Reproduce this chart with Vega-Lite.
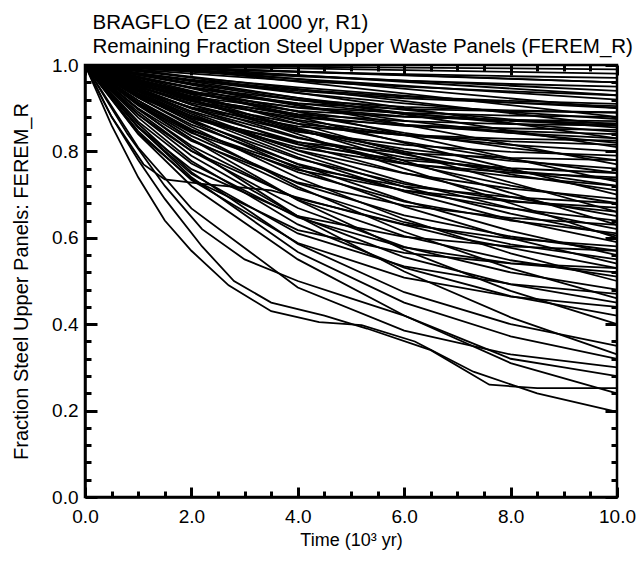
{
"$schema": "https://vega.github.io/schema/vega-lite/v6.json",
"width": 532, "height": 432,
"autosize": {"type": "none"},
"padding": {"left": 85, "top": 65, "right": 23, "bottom": 66},
"background": "white",
"config": {"view": {"stroke": "black", "strokeWidth": 2.5}, "font": "Liberation Sans"},
"data": {"values": [
{"r":1,"t":0,"f":1},{"r":1,"t":1,"f":0.999},{"r":1,"t":2,"f":0.998},{"r":1,"t":4,"f":0.996},{"r":1,"t":6,"f":0.994},{"r":1,"t":8,"f":0.992},{"r":1,"t":10,"f":0.99},
{"r":2,"t":0,"f":1},{"r":2,"t":1,"f":0.998},{"r":2,"t":2,"f":0.996},{"r":2,"t":4,"f":0.992},{"r":2,"t":6,"f":0.988},{"r":2,"t":8,"f":0.984},{"r":2,"t":10,"f":0.98},
{"r":3,"t":0,"f":1},{"r":3,"t":1,"f":0.995},{"r":3,"t":2,"f":0.991},{"r":3,"t":4,"f":0.984},{"r":3,"t":6,"f":0.979},{"r":3,"t":8,"f":0.974},{"r":3,"t":10,"f":0.97},
{"r":4,"t":0,"f":1},{"r":4,"t":1,"f":0.996},{"r":4,"t":2,"f":0.992},{"r":4,"t":4,"f":0.984},{"r":4,"t":6,"f":0.976},{"r":4,"t":8,"f":0.968},{"r":4,"t":10,"f":0.96},
{"r":5,"t":0,"f":1},{"r":5,"t":1,"f":0.992},{"r":5,"t":2,"f":0.986},{"r":5,"t":4,"f":0.974},{"r":5,"t":6,"f":0.964},{"r":5,"t":8,"f":0.956},{"r":5,"t":10,"f":0.95},
{"r":6,"t":0,"f":1},{"r":6,"t":1,"f":0.994},{"r":6,"t":2,"f":0.988},{"r":6,"t":4,"f":0.976},{"r":6,"t":6,"f":0.964},{"r":6,"t":8,"f":0.952},{"r":6,"t":10,"f":0.94},
{"r":7,"t":0,"f":1},{"r":7,"t":1,"f":0.989},{"r":7,"t":2,"f":0.98},{"r":7,"t":4,"f":0.963},{"r":7,"t":6,"f":0.95},{"r":7,"t":8,"f":0.939},{"r":7,"t":10,"f":0.93},
{"r":8,"t":0,"f":1},{"r":8,"t":1,"f":0.992},{"r":8,"t":2,"f":0.984},{"r":8,"t":4,"f":0.968},{"r":8,"t":6,"f":0.952},{"r":8,"t":8,"f":0.936},{"r":8,"t":10,"f":0.92},
{"r":9,"t":0,"f":1},{"r":9,"t":1,"f":0.981},{"r":9,"t":2,"f":0.966},{"r":9,"t":4,"f":0.943},{"r":9,"t":6,"f":0.927},{"r":9,"t":8,"f":0.917},{"r":9,"t":10,"f":0.91},
{"r":10,"t":0,"f":1},{"r":10,"t":1,"f":0.985},{"r":10,"t":2,"f":0.971},{"r":10,"t":4,"f":0.948},{"r":10,"t":6,"f":0.929},{"r":10,"t":8,"f":0.913},{"r":10,"t":10,"f":0.9},
{"r":11,"t":0,"f":1},{"r":11,"t":1,"f":0.97},{"r":11,"t":2,"f":0.948},{"r":11,"t":4,"f":0.919},{"r":11,"t":6,"f":0.903},{"r":11,"t":8,"f":0.895},{"r":11,"t":10,"f":0.89},
{"r":12,"t":0,"f":1},{"r":12,"t":1,"f":0.96},{"r":12,"t":2,"f":0.933},{"r":12,"t":4,"f":0.902},{"r":12,"t":6,"f":0.889},{"r":12,"t":8,"f":0.883},{"r":12,"t":10,"f":0.88},
{"r":13,"t":0,"f":1},{"r":13,"t":1,"f":0.981},{"r":13,"t":2,"f":0.964},{"r":13,"t":4,"f":0.935},{"r":13,"t":6,"f":0.911},{"r":13,"t":8,"f":0.891},{"r":13,"t":10,"f":0.875},
{"r":14,"t":0,"f":1},{"r":14,"t":1,"f":0.956},{"r":14,"t":2,"f":0.927},{"r":14,"t":4,"f":0.894},{"r":14,"t":6,"f":0.88},{"r":14,"t":8,"f":0.873},{"r":14,"t":10,"f":0.87},
{"r":15,"t":0,"f":1},{"r":15,"t":1,"f":0.963},{"r":15,"t":2,"f":0.936},{"r":15,"t":4,"f":0.901},{"r":15,"t":6,"f":0.881},{"r":15,"t":8,"f":0.871},{"r":15,"t":10,"f":0.865},
{"r":16,"t":0,"f":1},{"r":16,"t":1,"f":0.971},{"r":16,"t":2,"f":0.947},{"r":16,"t":4,"f":0.911},{"r":16,"t":6,"f":0.887},{"r":16,"t":8,"f":0.871},{"r":16,"t":10,"f":0.86},
{"r":17,"t":0,"f":1},{"r":17,"t":1,"f":0.95},{"r":17,"t":2,"f":0.916},{"r":17,"t":4,"f":0.878},{"r":17,"t":6,"f":0.861},{"r":17,"t":8,"f":0.853},{"r":17,"t":10,"f":0.85},
{"r":18,"t":0,"f":1},{"r":18,"t":1,"f":0.977},{"r":18,"t":2,"f":0.956},{"r":18,"t":4,"f":0.919},{"r":18,"t":6,"f":0.889},{"r":18,"t":8,"f":0.865},{"r":18,"t":10,"f":0.845},
{"r":19,"t":0,"f":1},{"r":19,"t":1,"f":0.956},{"r":19,"t":2,"f":0.924},{"r":19,"t":4,"f":0.882},{"r":19,"t":6,"f":0.859},{"r":19,"t":8,"f":0.847},{"r":19,"t":10,"f":0.84},
{"r":20,"t":0,"f":1},{"r":20,"t":1,"f":0.964},{"r":20,"t":2,"f":0.935},{"r":20,"t":4,"f":0.892},{"r":20,"t":6,"f":0.862},{"r":20,"t":8,"f":0.843},{"r":20,"t":10,"f":0.83},
{"r":21,"t":0,"f":1},{"r":21,"t":1,"f":0.941},{"r":21,"t":2,"f":0.902},{"r":21,"t":4,"f":0.858},{"r":21,"t":6,"f":0.838},{"r":21,"t":8,"f":0.829},{"r":21,"t":10,"f":0.825},
{"r":22,"t":0,"f":1},{"r":22,"t":1,"f":0.973},{"r":22,"t":2,"f":0.948},{"r":22,"t":4,"f":0.906},{"r":22,"t":6,"f":0.871},{"r":22,"t":8,"f":0.843},{"r":22,"t":10,"f":0.82},
{"r":23,"t":0,"f":1},{"r":23,"t":1,"f":0.981},{"r":23,"t":2,"f":0.962},{"r":23,"t":4,"f":0.924},{"r":23,"t":6,"f":0.886},{"r":23,"t":8,"f":0.848},{"r":23,"t":10,"f":0.81},
{"r":24,"t":0,"f":1},{"r":24,"t":1,"f":0.958},{"r":24,"t":2,"f":0.924},{"r":24,"t":4,"f":0.873},{"r":24,"t":6,"f":0.838},{"r":24,"t":8,"f":0.815},{"r":24,"t":10,"f":0.8},
{"r":25,"t":0,"f":1},{"r":25,"t":1,"f":0.943},{"r":25,"t":2,"f":0.9},{"r":25,"t":4,"f":0.845},{"r":25,"t":6,"f":0.815},{"r":25,"t":8,"f":0.799},{"r":25,"t":10,"f":0.79},
{"r":26,"t":0,"f":1},{"r":26,"t":1,"f":0.967},{"r":26,"t":2,"f":0.937},{"r":26,"t":4,"f":0.885},{"r":26,"t":6,"f":0.843},{"r":26,"t":8,"f":0.808},{"r":26,"t":10,"f":0.78},
{"r":27,"t":0,"f":1},{"r":27,"t":1,"f":0.977},{"r":27,"t":2,"f":0.954},{"r":27,"t":4,"f":0.908},{"r":27,"t":6,"f":0.862},{"r":27,"t":8,"f":0.816},{"r":27,"t":10,"f":0.77},
{"r":28,"t":0,"f":1},{"r":28,"t":1,"f":0.95},{"r":28,"t":2,"f":0.908},{"r":28,"t":4,"f":0.847},{"r":28,"t":6,"f":0.806},{"r":28,"t":8,"f":0.778},{"r":28,"t":10,"f":0.76},
{"r":29,"t":0,"f":1},{"r":29,"t":1,"f":0.962},{"r":29,"t":2,"f":0.928},{"r":29,"t":4,"f":0.87},{"r":29,"t":6,"f":0.822},{"r":29,"t":8,"f":0.782},{"r":29,"t":10,"f":0.75},
{"r":30,"t":0,"f":1},{"r":30,"t":1,"f":0.929},{"r":30,"t":2,"f":0.877},{"r":30,"t":4,"f":0.809},{"r":30,"t":6,"f":0.771},{"r":30,"t":8,"f":0.751},{"r":30,"t":10,"f":0.74},
{"r":31,"t":0,"f":1},{"r":31,"t":1,"f":0.973},{"r":31,"t":2,"f":0.946},{"r":31,"t":4,"f":0.892},{"r":31,"t":6,"f":0.838},{"r":31,"t":8,"f":0.784},{"r":31,"t":10,"f":0.73},
{"r":32,"t":0,"f":1},{"r":32,"t":1,"f":0.941},{"r":32,"t":2,"f":0.893},{"r":32,"t":4,"f":0.822},{"r":32,"t":6,"f":0.773},{"r":32,"t":8,"f":0.742},{"r":32,"t":10,"f":0.72},
{"r":33,"t":0,"f":1},{"r":33,"t":1,"f":0.956},{"r":33,"t":2,"f":0.917},{"r":33,"t":4,"f":0.849},{"r":33,"t":6,"f":0.793},{"r":33,"t":8,"f":0.747},{"r":33,"t":10,"f":0.71},
{"r":34,"t":0,"f":1},{"r":34,"t":1,"f":0.97},{"r":34,"t":2,"f":0.94},{"r":34,"t":4,"f":0.88},{"r":34,"t":6,"f":0.82},{"r":34,"t":8,"f":0.76},{"r":34,"t":10,"f":0.7},
{"r":35,"t":0,"f":1},{"r":35,"t":1,"f":0.935},{"r":35,"t":2,"f":0.882},{"r":35,"t":4,"f":0.803},{"r":35,"t":6,"f":0.749},{"r":35,"t":8,"f":0.714},{"r":35,"t":10,"f":0.69},
{"r":36,"t":0,"f":1},{"r":36,"t":1,"f":0.952},{"r":36,"t":2,"f":0.908},{"r":36,"t":4,"f":0.833},{"r":36,"t":6,"f":0.772},{"r":36,"t":8,"f":0.721},{"r":36,"t":10,"f":0.68},
{"r":37,"t":0,"f":1},{"r":37,"t":1,"f":0.91},{"r":37,"t":2,"f":0.843},{"r":37,"t":4,"f":0.757},{"r":37,"t":6,"f":0.71},{"r":37,"t":8,"f":0.684},{"r":37,"t":10,"f":0.67},
{"r":38,"t":0,"f":1},{"r":38,"t":1,"f":0.966},{"r":38,"t":2,"f":0.932},{"r":38,"t":4,"f":0.864},{"r":38,"t":6,"f":0.796},{"r":38,"t":8,"f":0.728},{"r":38,"t":10,"f":0.66},
{"r":39,"t":0,"f":1},{"r":39,"t":1,"f":0.947},{"r":39,"t":2,"f":0.9},{"r":39,"t":4,"f":0.817},{"r":39,"t":6,"f":0.75},{"r":39,"t":8,"f":0.695},{"r":39,"t":10,"f":0.65},
{"r":40,"t":0,"f":1},{"r":40,"t":1,"f":0.924},{"r":40,"t":2,"f":0.862},{"r":40,"t":4,"f":0.771},{"r":40,"t":6,"f":0.709},{"r":40,"t":8,"f":0.668},{"r":40,"t":10,"f":0.64},
{"r":41,"t":0,"f":1},{"r":41,"t":1,"f":0.963},{"r":41,"t":2,"f":0.926},{"r":41,"t":4,"f":0.852},{"r":41,"t":6,"f":0.778},{"r":41,"t":8,"f":0.704},{"r":41,"t":10,"f":0.63},
{"r":42,"t":0,"f":1},{"r":42,"t":1,"f":0.943},{"r":42,"t":2,"f":0.891},{"r":42,"t":4,"f":0.802},{"r":42,"t":6,"f":0.729},{"r":42,"t":8,"f":0.669},{"r":42,"t":10,"f":0.62},
{"r":43,"t":0,"f":1},{"r":43,"t":1,"f":0.918},{"r":43,"t":2,"f":0.851},{"r":43,"t":4,"f":0.752},{"r":43,"t":6,"f":0.684},{"r":43,"t":8,"f":0.64},{"r":43,"t":10,"f":0.61},
{"r":44,"t":0,"f":1},{"r":44,"t":1,"f":0.96},{"r":44,"t":2,"f":0.92},{"r":44,"t":4,"f":0.84},{"r":44,"t":6,"f":0.76},{"r":44,"t":8,"f":0.68},{"r":44,"t":10,"f":0.6},
{"r":45,"t":0,"f":1},{"r":45,"t":1,"f":0.938},{"r":45,"t":2,"f":0.882},{"r":45,"t":4,"f":0.786},{"r":45,"t":6,"f":0.707},{"r":45,"t":8,"f":0.642},{"r":45,"t":10,"f":0.59},
{"r":46,"t":0,"f":1},{"r":46,"t":1,"f":0.885},{"r":46,"t":2,"f":0.801},{"r":46,"t":4,"f":0.691},{"r":46,"t":6,"f":0.631},{"r":46,"t":8,"f":0.598},{"r":46,"t":10,"f":0.58},
{"r":47,"t":0,"f":1},{"r":47,"t":1,"f":0.91},{"r":47,"t":2,"f":0.836},{"r":47,"t":4,"f":0.726},{"r":47,"t":6,"f":0.652},{"r":47,"t":8,"f":0.603},{"r":47,"t":10,"f":0.57},
{"r":48,"t":0,"f":1},{"r":48,"t":1,"f":0.934},{"r":48,"t":2,"f":0.874},{"r":48,"t":4,"f":0.77},{"r":48,"t":6,"f":0.686},{"r":48,"t":8,"f":0.616},{"r":48,"t":10,"f":0.56},
{"r":49,"t":0,"f":1},{"r":49,"t":1,"f":0.958},{"r":49,"t":2,"f":0.92},{"r":49,"t":4,"f":0.854},{"r":49,"t":6,"f":0.8},{"r":49,"t":8,"f":0.756},{"r":49,"t":10,"f":0.72},
{"r":50,"t":0,"f":1},{"r":50,"t":1,"f":0.929},{"r":50,"t":2,"f":0.87},{"r":50,"t":4,"f":0.783},{"r":50,"t":6,"f":0.725},{"r":50,"t":8,"f":0.686},{"r":50,"t":10,"f":0.66},
{"r":51,"t":0,"f":1},{"r":51,"t":1,"f":0.932},{"r":51,"t":2,"f":0.881},{"r":51,"t":4,"f":0.816},{"r":51,"t":6,"f":0.78},{"r":51,"t":8,"f":0.761},{"r":51,"t":10,"f":0.75},
{"r":52,"t":0,"f":1},{"r":52,"t":1,"f":0.913},{"r":52,"t":2,"f":0.848},{"r":52,"t":4,"f":0.764},{"r":52,"t":6,"f":0.719},{"r":52,"t":8,"f":0.694},{"r":52,"t":10,"f":0.68},
{"r":53,"t":0,"f":1},{"r":53,"t":1,"f":0.899},{"r":53,"t":2,"f":0.824},{"r":53,"t":4,"f":0.728},{"r":53,"t":6,"f":0.675},{"r":53,"t":8,"f":0.646},{"r":53,"t":10,"f":0.63},
{"r":54,"t":0,"f":1},{"r":54,"t":1,"f":0.926},{"r":54,"t":2,"f":0.877},{"r":54,"t":4,"f":0.821},{"r":54,"t":6,"f":0.796},{"r":54,"t":8,"f":0.785},{"r":54,"t":10,"f":0.78},
{"r":55,"t":0,"f":1},{"r":55,"t":1,"f":0.906},{"r":55,"t":2,"f":0.828},{"r":55,"t":4,"f":0.713},{"r":55,"t":6,"f":0.636},{"r":55,"t":8,"f":0.585},{"r":55,"t":10,"f":0.55},
{"r":56,"t":0,"f":1},{"r":56,"t":1,"f":0.931},{"r":56,"t":2,"f":0.868},{"r":56,"t":4,"f":0.76},{"r":56,"t":6,"f":0.672},{"r":56,"t":8,"f":0.599},{"r":56,"t":10,"f":0.54},
{"r":57,"t":0,"f":1},{"r":57,"t":1,"f":0.869},{"r":57,"t":2,"f":0.772},{"r":57,"t":4,"f":0.647},{"r":57,"t":6,"f":0.578},{"r":57,"t":8,"f":0.541},{"r":57,"t":10,"f":0.52},
{"r":58,"t":0,"f":1},{"r":58,"t":1,"f":0.897},{"r":58,"t":2,"f":0.813},{"r":58,"t":4,"f":0.688},{"r":58,"t":6,"f":0.604},{"r":58,"t":8,"f":0.548},{"r":58,"t":10,"f":0.51},
{"r":59,"t":0,"f":1},{"r":59,"t":1,"f":0.925},{"r":59,"t":2,"f":0.857},{"r":59,"t":4,"f":0.739},{"r":59,"t":6,"f":0.643},{"r":59,"t":8,"f":0.564},{"r":59,"t":10,"f":0.5},
{"r":60,"t":0,"f":1},{"r":60,"t":1,"f":0.891},{"r":60,"t":2,"f":0.801},{"r":60,"t":4,"f":0.669},{"r":60,"t":6,"f":0.579},{"r":60,"t":8,"f":0.52},{"r":60,"t":10,"f":0.48},
{"r":61,"t":0,"f":1},{"r":61,"t":1,"f":0.918},{"r":61,"t":2,"f":0.845},{"r":61,"t":4,"f":0.718},{"r":61,"t":6,"f":0.614},{"r":61,"t":8,"f":0.529},{"r":61,"t":10,"f":0.46},
{"r":62,"t":0,"f":1},{"r":62,"t":1,"f":0.847},{"r":62,"t":2,"f":0.734},{"r":62,"t":4,"f":0.588},{"r":62,"t":6,"f":0.508},{"r":62,"t":8,"f":0.464},{"r":62,"t":10,"f":0.44},
{"r":63,"t":0,"f":1},{"r":63,"t":1,"f":0.878},{"r":63,"t":2,"f":0.778},{"r":63,"t":4,"f":0.631},{"r":63,"t":6,"f":0.531},{"r":63,"t":8,"f":0.465},{"r":63,"t":10,"f":0.42},
{"r":64,"t":0,"f":1},{"r":64,"t":1,"f":0.909},{"r":64,"t":2,"f":0.828},{"r":64,"t":4,"f":0.687},{"r":64,"t":6,"f":0.572},{"r":64,"t":8,"f":0.477},{"r":64,"t":10,"f":0.4},
{"r":65,"t":0,"f":1},{"r":65,"t":1,"f":0.864},{"r":65,"t":2,"f":0.752},{"r":65,"t":4,"f":0.586},{"r":65,"t":6,"f":0.474},{"r":65,"t":8,"f":0.4},{"r":65,"t":10,"f":0.35},
{"r":66,"t":0,"f":1},{"r":66,"t":1,"f":0.899},{"r":66,"t":2,"f":0.808},{"r":66,"t":4,"f":0.65},{"r":66,"t":6,"f":0.522},{"r":66,"t":8,"f":0.416},{"r":66,"t":10,"f":0.33},
{"r":67,"t":0,"f":1},{"r":67,"t":1,"f":0.809},{"r":67,"t":2,"f":0.668},{"r":67,"t":4,"f":0.485},{"r":67,"t":6,"f":0.385},{"r":67,"t":8,"f":0.33},{"r":67,"t":10,"f":0.3},
{"r":68,"t":0,"f":1},{"r":68,"t":1,"f":0.857},{"r":68,"t":2,"f":0.74},{"r":68,"t":4,"f":0.567},{"r":68,"t":6,"f":0.45},{"r":68,"t":8,"f":0.372},{"r":68,"t":10,"f":0.32},
{"r":69,"t":0,"f":1},{"r":69,"t":1,"f":0.842},{"r":69,"t":2,"f":0.736},{"r":69,"t":4,"f":0.618},{"r":69,"t":6,"f":0.565},{"r":69,"t":8,"f":0.541},{"r":69,"t":10,"f":0.53},
{"r":70,"t":0,"f":1},{"r":70,"t":1,"f":0.856},{"r":70,"t":2,"f":0.759},{"r":70,"t":4,"f":0.65},{"r":70,"t":6,"f":0.602},{"r":70,"t":8,"f":0.58},{"r":70,"t":10,"f":0.57},
{"r":71,"t":0,"f":1},{"r":71,"t":1,"f":1},{"r":71,"t":10,"f":0.93},
{"r":72,"t":0,"f":1},{"r":72,"t":1.5,"f":0.995},{"r":72,"t":10,"f":0.88},
{"r":73,"t":0,"f":1},{"r":73,"t":0.8,"f":0.99},{"r":73,"t":10,"f":0.86},
{"r":74,"t":0,"f":1},{"r":74,"t":2,"f":0.99},{"r":74,"t":10,"f":0.9},
{"r":75,"t":0,"f":1},{"r":75,"t":1.2,"f":0.985},{"r":75,"t":10,"f":0.83},
{"r":76,"t":0,"f":1},{"r":76,"t":0.5,"f":1},{"r":76,"t":10,"f":0.96},
{"r":77,"t":0,"f":1},{"r":77,"t":0.5,"f":0.86},{"r":77,"t":1,"f":0.74},{"r":77,"t":1.5,"f":0.64},{"r":77,"t":2,"f":0.57},{"r":77,"t":2.7,"f":0.49},{"r":77,"t":3.5,"f":0.43},{"r":77,"t":4.4,"f":0.405},{"r":77,"t":5.2,"f":0.398},{"r":77,"t":6.2,"f":0.36},{"r":77,"t":7.3,"f":0.29},{"r":77,"t":8.5,"f":0.24},{"r":77,"t":10,"f":0.197},
{"r":78,"t":0,"f":1},{"r":78,"t":0.5,"f":0.88},{"r":78,"t":1,"f":0.78},{"r":78,"t":1.5,"f":0.69},{"r":78,"t":2.2,"f":0.58},{"r":78,"t":2.8,"f":0.5},{"r":78,"t":3.5,"f":0.45},{"r":78,"t":4.5,"f":0.42},{"r":78,"t":5.3,"f":0.39},{"r":78,"t":6.5,"f":0.34},{"r":78,"t":7.6,"f":0.26},{"r":78,"t":8.5,"f":0.252},{"r":78,"t":10,"f":0.252},
{"r":79,"t":0,"f":1},{"r":79,"t":0.8,"f":0.84},{"r":79,"t":1.5,"f":0.72},{"r":79,"t":2.2,"f":0.62},{"r":79,"t":3,"f":0.55},{"r":79,"t":4,"f":0.5},{"r":79,"t":5,"f":0.46},{"r":79,"t":6,"f":0.42},{"r":79,"t":7,"f":0.37},{"r":79,"t":8,"f":0.32},{"r":79,"t":9,"f":0.3},{"r":79,"t":10,"f":0.28},
{"r":80,"t":0,"f":1},{"r":80,"t":0.5,"f":0.88},{"r":80,"t":1.1,"f":0.77},{"r":80,"t":1.5,"f":0.735},{"r":80,"t":2.2,"f":0.725},{"r":80,"t":3.5,"f":0.71},{"r":80,"t":5,"f":0.66},{"r":80,"t":7,"f":0.6},{"r":80,"t":10,"f":0.53},
{"r":81,"t":0,"f":1},{"r":81,"t":1,"f":0.84},{"r":81,"t":2,"f":0.72},{"r":81,"t":4,"f":0.55},{"r":81,"t":6,"f":0.42},{"r":81,"t":8,"f":0.31},{"r":81,"t":10,"f":0.24},
{"r":82,"t":0,"f":1},{"r":82,"t":1,"f":0.98},{"r":82,"t":2,"f":0.964},{"r":82,"t":4,"f":0.94},{"r":82,"t":6,"f":0.923},{"r":82,"t":8,"f":0.913},{"r":82,"t":10,"f":0.905},
{"r":83,"t":0,"f":1},{"r":83,"t":1,"f":0.953},{"r":83,"t":2,"f":0.921},{"r":83,"t":4,"f":0.886},{"r":83,"t":6,"f":0.87},{"r":83,"t":8,"f":0.863},{"r":83,"t":10,"f":0.86},
{"r":84,"t":0,"f":1},{"r":84,"t":1,"f":0.978},{"r":84,"t":2,"f":0.958},{"r":84,"t":4,"f":0.924},{"r":84,"t":6,"f":0.896},{"r":84,"t":8,"f":0.874},{"r":84,"t":10,"f":0.855},
{"r":85,"t":0,"f":1},{"r":85,"t":1,"f":0.949},{"r":85,"t":2,"f":0.912},{"r":85,"t":4,"f":0.864},{"r":85,"t":6,"f":0.837},{"r":85,"t":8,"f":0.823},{"r":85,"t":10,"f":0.815},
{"r":86,"t":0,"f":1},{"r":86,"t":1,"f":0.963},{"r":86,"t":2,"f":0.938},{"r":86,"t":4,"f":0.911},{"r":86,"t":6,"f":0.898},{"r":86,"t":8,"f":0.893},{"r":86,"t":10,"f":0.89},
{"r":87,"t":0,"f":1},{"r":87,"t":1,"f":0.944},{"r":87,"t":2,"f":0.899},{"r":87,"t":4,"f":0.831},{"r":87,"t":6,"f":0.786},{"r":87,"t":8,"f":0.755},{"r":87,"t":10,"f":0.735},
{"r":88,"t":0,"f":1},{"r":88,"t":1,"f":0.94},{"r":88,"t":2,"f":0.887},{"r":88,"t":4,"f":0.794},{"r":88,"t":6,"f":0.718},{"r":88,"t":8,"f":0.656},{"r":88,"t":10,"f":0.605},
{"r":89,"t":0,"f":1},{"r":89,"t":1,"f":0.855},{"r":89,"t":2,"f":0.748},{"r":89,"t":4,"f":0.61},{"r":89,"t":6,"f":0.534},{"r":89,"t":8,"f":0.493},{"r":89,"t":10,"f":0.47},
{"r":90,"t":0,"f":1},{"r":90,"t":1,"f":0.885},{"r":90,"t":2,"f":0.79},{"r":90,"t":4,"f":0.65},{"r":90,"t":6,"f":0.555},{"r":90,"t":8,"f":0.492},{"r":90,"t":10,"f":0.45}
]},
"resolve": {"axis": {"x": "independent", "y": "independent"}},
"layer": [
{"mark": {"type": "line", "color": "black", "strokeWidth": 1.8},
 "encoding": {
  "x": {"field": "t", "type": "quantitative", "scale": {"domain": [0, 10], "nice": false, "zero": false},
    "axis": {"orient": "bottom", "title": "Time (10³ yr)", "values": [0,2,4,6,8,10], "format": ".1f", "zindex": 1,
      "tickSize": -10, "tickColor": "black", "tickWidth": 3,
      "domainColor": "black", "domainWidth": 2.5,
      "grid": false, "labelFlush": false, "labelFont": "Liberation Sans", "labelFontSize": 19, "labelColor": "black", "labelPadding": 20,
      "titleFont": "Liberation Sans", "titleFontSize": 18, "titleFontWeight": "normal", "titleColor": "black", "titlePadding": 5}},
  "y": {"field": "f", "type": "quantitative", "scale": {"domain": [0, 1], "nice": false},
    "axis": {"orient": "left", "title": "Fraction Steel Upper Panels: FEREM_R", "values": [0,0.2,0.4,0.6,0.8,1], "format": ".1f", "zindex": 1,
      "tickSize": -12, "tickColor": "black", "tickWidth": 3,
      "domainColor": "black", "domainWidth": 2.5,
      "grid": false, "labelFlush": false, "labelFont": "Liberation Sans", "labelFontSize": 19, "labelColor": "black", "labelPadding": 19,
      "titleFont": "Liberation Sans", "titleFontSize": 20, "titleFontWeight": "normal", "titleColor": "black", "titlePadding": 20}},
  "detail": {"field": "r", "type": "nominal"}
 }},
{"transform": [{"filter": "datum.r == 1"}],
 "mark": {"type": "line", "opacity": 0},
 "encoding": {
  "x": {"field": "t", "type": "quantitative",
    "axis": {"orient": "bottom", "title": null, "zindex": 1, "values": [0.5,1,1.5,2.5,3,3.5,4.5,5,5.5,6.5,7,7.5,8.5,9,9.5], "labels": false, "domain": false, "grid": false, "tickSize": -6, "tickColor": "black", "tickWidth": 3}},
  "y": {"field": "f", "type": "quantitative",
    "axis": {"orient": "left", "title": null, "zindex": 1, "values": [0.04,0.08,0.12,0.16,0.24,0.28,0.32,0.36,0.44,0.48,0.52,0.56,0.64,0.68,0.72,0.76,0.84,0.88,0.92,0.96], "labels": false, "domain": false, "grid": false, "tickSize": -6, "tickColor": "black", "tickWidth": 3}},
  "detail": {"field": "r", "type": "nominal"}
 }},
{"transform": [{"filter": "datum.r == 1"}],
 "mark": {"type": "line", "opacity": 0},
 "encoding": {
  "x": {"field": "t", "type": "quantitative",
    "axis": {"orient": "top", "zindex": 1, "values": [0,2,4,6,8,10], "labels": false, "domain": false, "grid": false, "tickSize": -10, "tickColor": "black", "tickWidth": 3,
      "title": ["BRAGFLO (E2 at 1000 yr, R1)", "Remaining Fraction Steel Upper Waste Panels (FEREM_R)"],
      "titleX": 7, "titleY": -37, "titleAlign": "left", "titleAnchor": "start", "titleBaseline": "alphabetic", "titleAngle": 0,
      "titleFont": "Liberation Sans", "titleFontSize": 20.5, "titleFontWeight": "normal", "titleColor": "black", "titleLineHeight": 24}},
  "y": {"field": "f", "type": "quantitative",
    "axis": {"orient": "right", "title": null, "zindex": 1, "values": [0,0.2,0.4,0.6,0.8,1], "labels": false, "domain": false, "grid": false, "tickSize": -12, "tickColor": "black", "tickWidth": 3}},
  "detail": {"field": "r", "type": "nominal"}
 }},
{"transform": [{"filter": "datum.r == 1"}],
 "mark": {"type": "line", "opacity": 0},
 "encoding": {
  "x": {"field": "t", "type": "quantitative",
    "axis": {"orient": "top", "title": null, "zindex": 1, "values": [0.5,1,1.5,2.5,3,3.5,4.5,5,5.5,6.5,7,7.5,8.5,9,9.5], "labels": false, "domain": false, "grid": false, "tickSize": -6, "tickColor": "black", "tickWidth": 3}},
  "y": {"field": "f", "type": "quantitative",
    "axis": {"orient": "right", "title": null, "zindex": 1, "values": [0.04,0.08,0.12,0.16,0.24,0.28,0.32,0.36,0.44,0.48,0.52,0.56,0.64,0.68,0.72,0.76,0.84,0.88,0.92,0.96], "labels": false, "domain": false, "grid": false, "tickSize": -6, "tickColor": "black", "tickWidth": 3}},
  "detail": {"field": "r", "type": "nominal"}
 }}
]
}
